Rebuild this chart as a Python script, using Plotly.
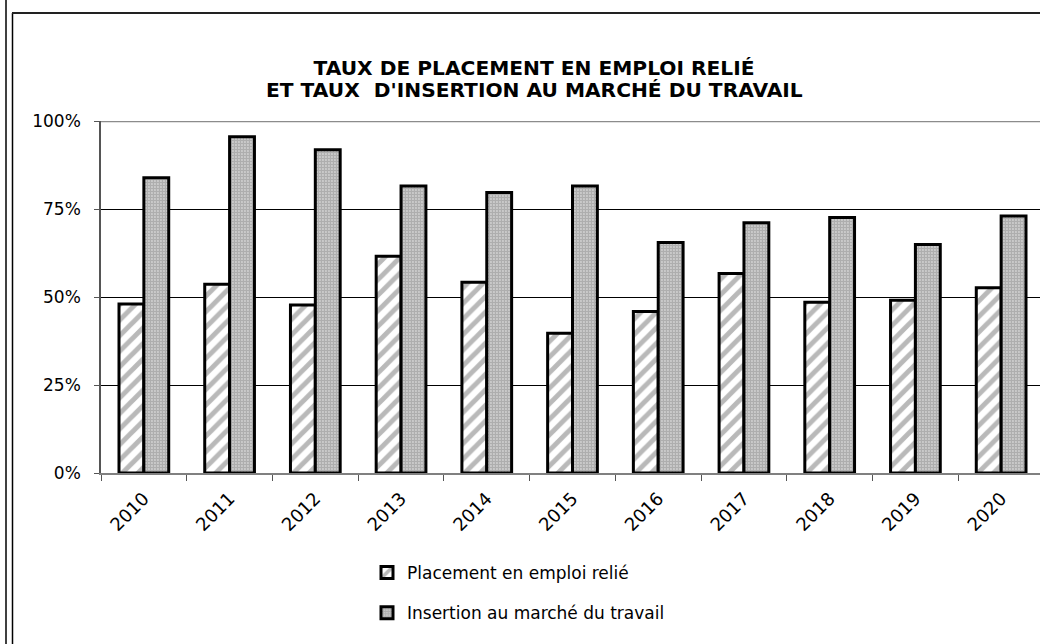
import plotly.graph_objects as go

years = ["2010", "2011", "2012", "2013", "2014", "2015", "2016", "2017", "2018", "2019", "2020"]
placement = [0.48, 0.536, 0.477, 0.616, 0.542, 0.397, 0.459, 0.567, 0.485, 0.491, 0.526]
insertion = [0.839, 0.955, 0.918, 0.815, 0.797, 0.815, 0.655, 0.711, 0.726, 0.649, 0.730]
y_ticks = [0, 0.25, 0.5, 0.75, 1.0]
y_tick_labels = ["0%", "25%", "50%", "75%", "100%"]
title_lines = ["TAUX DE PLACEMENT EN EMPLOI RELIÉ", "ET TAUX  D'INSERTION AU MARCHÉ DU TRAVAIL"]
series_names = ["Placement en emploi relié", "Insertion au marché du travail"]

FONT = "DejaVu Sans"
W, H = 1040, 644
L, R, T, B = 101, 0, 121, 171
pw = W - L - R
ph = H - T - B

def px_x(p):
    return (p - L) / pw

def px_y(p):
    return (H - B - p) / ph

fig = go.Figure()
fig.add_trace(go.Bar(
    x=years, y=placement, name=series_names[0], legendgroup="a",
    marker=dict(color="white", line=dict(color="black", width=3),
                pattern=dict(shape="/", fgcolor="#737373", bgcolor="white", size=11, solidity=0.45)),
))
fig.add_trace(go.Bar(
    x=years, y=insertion, name=series_names[1], legendgroup="b",
    marker=dict(color="white", line=dict(color="black", width=3),
                pattern=dict(shape=".", fgcolor="#5e5e5e", bgcolor="white", size=3, solidity=0.8)),
))

# frame lines
shapes = [
    dict(type="line", xref="paper", yref="paper", x0=px_x(6), x1=px_x(6), y0=px_y(0), y1=px_y(644),
         line=dict(color="black", width=1.5)),
    dict(type="line", xref="paper", yref="paper", x0=px_x(12.5), x1=px_x(12.5), y0=px_y(13), y1=px_y(644),
         line=dict(color="black", width=1.5)),
    dict(type="line", xref="paper", yref="paper", x0=px_x(12), x1=px_x(1040), y0=px_y(13), y1=px_y(13),
         line=dict(color="#222", width=2)),
    dict(type="line", xref="paper", yref="y", x0=0, x1=1, y0=1.0, y1=1.0,
         line=dict(color="#8c8c8c", width=2.5), layer="above"),
]

TITLE_X = 534
TITLE_SIZE = 20.2
fig.update_layout(
    width=W, height=H,
    margin=dict(l=L, r=R, t=T, b=B, pad=0, autoexpand=False),
    paper_bgcolor="white", plot_bgcolor="white",
    font=dict(family=FONT, color="black", size=16),
    title=dict(text="<b>" + title_lines[0] + "</b>",
               x=TITLE_X / W, xref="container", xanchor="center",
               y=1 - 68 / H, yref="container", yanchor="middle",
               font=dict(family=FONT, size=TITLE_SIZE, color="black")),
    annotations=[dict(text="<b>" + title_lines[1] + "</b>", xref="paper", yref="paper",
                      x=px_x(TITLE_X), y=px_y(90), xanchor="center", yanchor="middle",
                      showarrow=False, font=dict(family=FONT, size=TITLE_SIZE, color="black"))],
    barmode="group", bargap=0.42, bargroupgap=0,
    showlegend=True,
    legend=dict(orientation="v", xref="container", yref="container",
                x=367 / W, xanchor="left", y=1 - 555 / H, yanchor="top",
                font=dict(family=FONT, size=17), tracegroupgap=15,
                bgcolor="rgba(0,0,0,0)", itemwidth=30),
    shapes=shapes,
)
fig.update_xaxes(
    type="category", range=[-0.5, 10.5 - 4 / 85.7],
    tickson="boundaries", ticks="outside", ticklen=6, tickcolor="#555", tickwidth=1,
    showline=True, linecolor="#808080", linewidth=2,
    showgrid=False, tickangle=-45, tickfont=dict(family=FONT, size=18),
    ticklabelstandoff=6,
)
fig.update_yaxes(
    range=[0, 1], tickvals=y_ticks, ticktext=y_tick_labels,
    ticks="outside", ticklen=5, tickcolor="#555",
    showline=True, linecolor="#555", linewidth=1.5,
    showgrid=True, gridcolor="black", gridwidth=1, zeroline=False,
    tickfont=dict(family=FONT, size=17), ticklabelstandoff=10,
)

fig.write_html("out.html", config={"displayModeBar": False},
               post_script="document.body.style.margin='0';")
